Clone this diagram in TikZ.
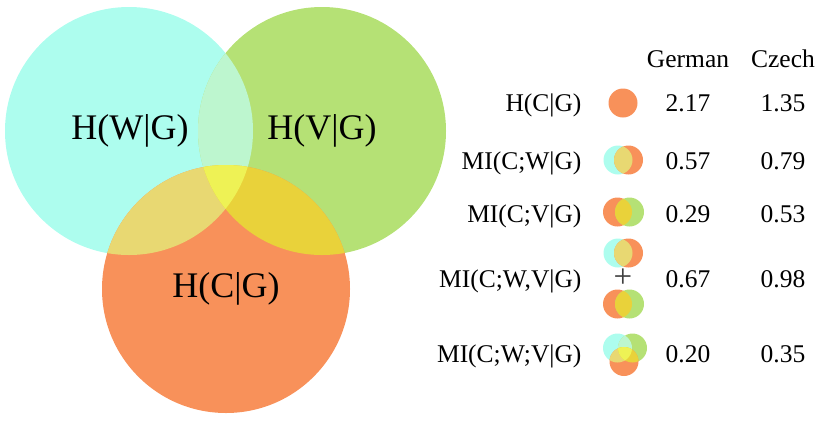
\documentclass[tikz,border=0pt]{standalone}
\usepackage{fontspec}
\setmainfont{Liberation Serif}
\usepackage{tikz}

\definecolor{wcol}{HTML}{ADFDEE}
\definecolor{vcol}{HTML}{B5E175}
\definecolor{ccol}{HTML}{F8915A}
\definecolor{wvcol}{HTML}{BDF6CF}
\definecolor{wccol}{HTML}{E8D872}
\definecolor{vccol}{HTML}{E9D23A}
\definecolor{allcol}{HTML}{EEF255}

\begin{document}
\begin{tikzpicture}[
    x=1pt, y=-1pt,
    big/.style={font=\fontsize{36}{40}\selectfont},
    row/.style={font=\fontsize{25.5}{28}\selectfont},
    lbl/.style={row, anchor=base east},
    val/.style={row, anchor=base}
]
\useasboundingbox (0,0) rectangle (830,424);

% Big diagram
\def\rad{124pt}
\coordinate (cW) at (129,131);
\coordinate (cV) at (322,131);
\coordinate (cC) at (226,289);
\fill[wcol] (cW) circle (\rad);
\fill[vcol] (cV) circle (\rad);
\fill[ccol] (cC) circle (\rad);
\begin{scope}
    \clip (cW) circle (\rad);
    \fill[wvcol] (cV) circle (\rad);
    \fill[wccol] (cC) circle (\rad);
\end{scope}
\begin{scope}
    \clip (cV) circle (\rad);
    \fill[vccol] (cC) circle (\rad);
\end{scope}
\begin{scope}
    \clip (cW) circle (\rad);
    \clip (cV) circle (\rad);
    \fill[allcol] (cC) circle (\rad);
\end{scope}

\node[big] (hw) at (130,131) {H(W|G)};
\node[big] (hv) at (322,131) {H(V|G)};
\node[big] (hc) at (226,289) {H(C|G)};

% Table header
\node[val] (german) at (688,67) {German};
\node[val] (czech) at (783,67) {Czech};

% Rows
\node[lbl] (l1) at (585,111) {H(C|G)};
\node[lbl] (l2) at (585,169) {MI(C;W|G)};
\node[lbl] (l3) at (585,222) {MI(C;V|G)};
\node[lbl] (l4) at (585,287) {MI(C;W,V|G)};
\node[lbl] (l5) at (585,362) {MI(C;W;V|G)};

\node[val] (g1) at (688,111) {2.17};
\node[val] (g2) at (688,169) {0.57};
\node[val] (g3) at (688,222) {0.29};
\node[val] (g4) at (688,287) {0.67};
\node[val] (g5) at (688,362) {0.20};

\node[val] (z1) at (783,111) {1.35};
\node[val] (z2) at (783,169) {0.79};
\node[val] (z3) at (783,222) {0.53};
\node[val] (z4) at (783,287) {0.98};
\node[val] (z5) at (783,362) {0.35};

% Small icons
\def\sr{14.5pt}
% H(C|G)
\fill[ccol] (623,103) circle (\sr);
% MI(C;W|G) and upper part of MI(C;W,V|G)
\foreach \y in {160,253} {
    \fill[wcol] (618,\y) circle (\sr);
    \fill[ccol] (628.5,\y) circle (\sr);
    \begin{scope}
        \clip (618,\y) circle (\sr);
        \fill[wccol] (628.5,\y) circle (\sr);
    \end{scope}
}
% MI(C;V|G) and lower part of MI(C;W,V|G)
\foreach \y in {212,304} {
    \fill[ccol] (617.5,\y) circle (\sr);
    \fill[vcol] (629.5,\y) circle (\sr);
    \begin{scope}
        \clip (617.5,\y) circle (\sr);
        \fill[vccol] (629.5,\y) circle (\sr);
    \end{scope}
}
\node[font=\fontsize{33}{33}\selectfont, text=black!75] (plus) at (623,278) {+};
% MI(C;W;V|G)
\coordinate (sW) at (617.5,348);
\coordinate (sV) at (632.5,348);
\coordinate (sC) at (624,361.5);
\fill[wcol] (sW) circle (\sr);
\fill[vcol] (sV) circle (\sr);
\fill[ccol] (sC) circle (\sr);
\begin{scope}
    \clip (sW) circle (\sr);
    \fill[wvcol] (sV) circle (\sr);
    \fill[wccol] (sC) circle (\sr);
\end{scope}
\begin{scope}
    \clip (sV) circle (\sr);
    \fill[vccol] (sC) circle (\sr);
\end{scope}
\begin{scope}
    \clip (sW) circle (\sr);
    \clip (sV) circle (\sr);
    \fill[allcol] (sC) circle (\sr);
\end{scope}

\end{tikzpicture}
\end{document}
